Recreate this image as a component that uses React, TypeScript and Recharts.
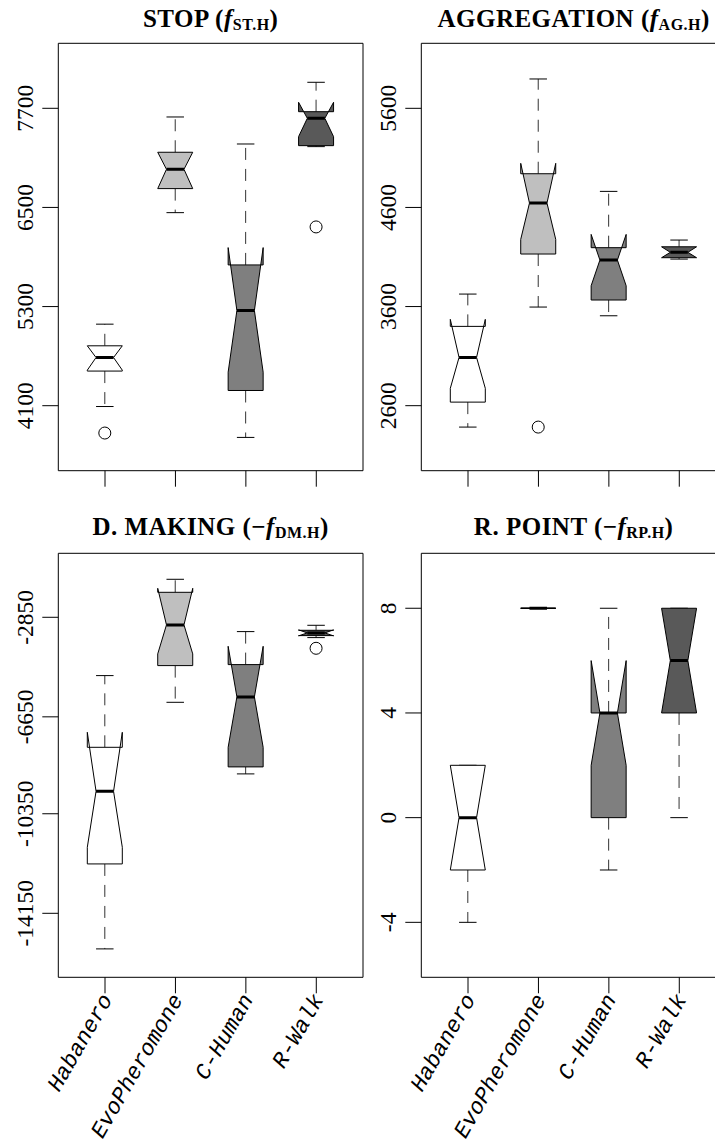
import React from "react";
import { ComposedChart, Bar, XAxis, YAxis, Customized } from "recharts";

// ---------- data ----------
const categories = ["Habanero", "EvoPheromone", "C-Human", "R-Walk"];
const boxFills = ["#ffffff", "#bfbfbf", "#7f7f7f", "#595959"];

// STOP (f_ST.H)
const stopBoxes = [
  { lo: 4090, q1: 4519, med: 4683, q3: 4825, hi: 5087, nLo: 4530, nHi: 4825 },
  { lo: 6437, q1: 6728, med: 6962, q3: 7168, hi: 7595, nLo: 6728, nHi: 7168 },
  { lo: 3716, q1: 4284, med: 5252, q3: 5804, hi: 7268, nLo: 4506, nHi: 6014 },
  { lo: 7236, q1: 7248, med: 7579, q3: 7659, hi: 8015, nLo: 7357, nHi: 7773 },
];
const stopOutliers = [[3769], [], [], [6264]];
const stopTicks = [4100, 5300, 6500, 7700];
const stopDomain = [3313, 8487];

// AGGREGATION (f_AG.H)
const aggBoxes = [
  { lo: 2384, q1: 2636, med: 3087, q3: 3400, hi: 3726, nLo: 2775, nHi: 3471 },
  { lo: 3595, q1: 4130, med: 4644, q3: 4940, hi: 5896, nLo: 4278, nHi: 5045 },
  { lo: 3507, q1: 3666, med: 4069, q3: 4194, hi: 4762, nLo: 3810, nHi: 4328 },
  { lo: 4079, q1: 4093, med: 4147, q3: 4203, hi: 4271, nLo: 4093, nHi: 4203 },
];
const aggOutliers = [[], [2384], [], []];
const aggTicks = [2600, 3600, 4600, 5600];
const aggDomain = [1944, 6256];

// D. MAKING (-f_DM.H)
const dmBoxes = [
  { lo: -15509, q1: -12265, med: -9492, q3: -7813, hi: -5076, nLo: -11630, nHi: -7240 },
  { lo: -6095, q1: -4694, med: -3140, q3: -1896, hi: -1399, nLo: -4247, nHi: -1743 },
  { lo: -8828, q1: -8561, med: -5889, q3: -4656, hi: -3396, nLo: -7813, nHi: -3957 },
  { lo: -3625, q1: -3549, med: -3446, q3: -3346, hi: -3155, nLo: -3560, nHi: -3330 },
];
const dmOutliers = [[], [], [], [-4033]];
const dmTicks = [-14150, -10350, -6650, -2850];
const dmDomain = [-16593, -407];

// R. POINT (-f_RP.H)
const rpBoxes = [
  { lo: -4, q1: -2, med: 0, q3: 2, hi: 2, nLo: -2, nHi: 2 },
  { lo: 8, q1: 8, med: 8, q3: 8, hi: 8, nLo: 8, nHi: 8 },
  { lo: -2, q1: 0, med: 4, q3: 4, hi: 8, nLo: 2, nHi: 6 },
  { lo: 0, q1: 4, med: 6, q3: 8, hi: 8, nLo: 4, nHi: 8 },
];
const rpOutliers = [[], [], [], []];
const rpTicks = [-4, 0, 4, 8];
const rpDomain = [-6.1, 10.1];

// ---------- helpers ----------
const SERIF = "'Liberation Serif', 'Times New Roman', serif";
const MONO = "'Liberation Mono', 'Courier New', monospace";

function buildRows(boxes: any[], outliers: number[][], domain: number[]) {
  return categories.map((name, i) => ({
    name,
    span: [domain[0], domain[1]],
    ...boxes[i],
    outliers: outliers[i],
  }));
}

function BoxShape(props: any) {
  const { x, y, width, height, payload, index } = props;
  const [d0, d1] = payload.span;
  const py = (v: number) => y + ((d1 - v) / (d1 - d0)) * height;
  const cx = x + width / 2;
  const w = width / 4;
  const n = w / 2;
  const L = cx - w;
  const R = cx + w;
  const pts = [
    [L, py(payload.q1)],
    [L, py(payload.nLo)],
    [cx - n, py(payload.med)],
    [L, py(payload.nHi)],
    [L, py(payload.q3)],
    [R, py(payload.q3)],
    [R, py(payload.nHi)],
    [cx + n, py(payload.med)],
    [R, py(payload.nLo)],
    [R, py(payload.q1)],
  ]
    .map((p) => `${p[0]},${p[1]}`)
    .join(" ");
  const dash = "12 9";
  return (
    <g>
      <line x1={cx} x2={cx} y1={py(payload.q3)} y2={py(payload.hi)} stroke="#333" strokeDasharray={dash} />
      <line x1={cx} x2={cx} y1={py(payload.q1)} y2={py(payload.lo)} stroke="#333" strokeDasharray={dash} />
      <line x1={cx - n} x2={cx + n} y1={py(payload.hi)} y2={py(payload.hi)} stroke="#000" />
      <line x1={cx - n} x2={cx + n} y1={py(payload.lo)} y2={py(payload.lo)} stroke="#000" />
      <polygon points={pts} fill={boxFills[index]} stroke="#000" strokeWidth={1} strokeLinejoin="miter" />
      <line x1={cx - n} x2={cx + n} y1={py(payload.med)} y2={py(payload.med)} stroke="#000" strokeWidth={3} />
      {payload.outliers.map((v: number, k: number) => (
        <circle key={k} cx={cx} cy={py(v)} r={6} fill="none" stroke="#000" strokeWidth={1} />
      ))}
    </g>
  );
}

function YLabel(props: any) {
  const { x, y, payload } = props;
  return (
    <text
      x={x}
      y={y}
      transform={`rotate(-90 ${x} ${y})`}
      textAnchor="middle"
      fontFamily={SERIF}
      fontSize={23.5}
      fill="#000"
    >
      {payload.value}
    </text>
  );
}

function XLabel(props: any) {
  const { x, y, payload } = props;
  const ax = x + 8;
  const ay = y + 6;
  return (
    <text
      x={ax}
      y={ay}
      transform={`rotate(-60 ${ax} ${ay})`}
      textAnchor="end"
      fontFamily={MONO}
      fontStyle="italic"
      fontSize={22.5}
      fill="#000"
    >
      {payload.value}
    </text>
  );
}

function BlankTick() {
  return <g />;
}

function Title(props: any) {
  const { tx, ty, pre, sub } = props;
  return (
    <text
      x={tx}
      y={ty}
      textAnchor="middle"
      fontFamily={SERIF}
      fontWeight="bold"
      fontSize={25}
      letterSpacing={0.5}
      fill="#000"
    >
      {pre}
      <tspan fontStyle="italic">f</tspan>
      <tspan fontSize={16} dy={3}>{sub}</tspan>
      <tspan dy={-3}>)</tspan>
    </text>
  );
}

const AXIS_W = 58.3;
const PLOT_W = 304.7;
const CHART_W = 380;

function Panel(props: any) {
  const { left, top, chartH, xAxisH, rows, domain, ticks, pre, sub, titleY, showLabels } = props;
  return (
    <div style={{ position: "absolute", left, top }}>
      <ComposedChart
        width={CHART_W}
        height={chartH}
        data={rows}
        margin={{ top: 42.3, right: 16, bottom: 0, left: 0 }}
        barCategoryGap={0}
        barGap={0}
      >
        <XAxis
          dataKey="name"
          type="category"
          interval={0}
          padding={{ left: 11.5, right: 11.5 }}
          height={xAxisH}
          tickSize={16}
          tickMargin={0}
          axisLine={{ stroke: "#000" }}
          tickLine={{ stroke: "#000" }}
          tick={showLabels ? <XLabel /> : <BlankTick />}
        />
        <XAxis
          xAxisId="top"
          dataKey="name"
          type="category"
          orientation="top"
          height={1}
          padding={{ left: 11.5, right: 11.5 }}
          tick={false}
          tickLine={false}
          axisLine={{ stroke: "#000" }}
        />
        <YAxis
          type="number"
          domain={domain}
          ticks={ticks}
          allowDataOverflow
          interval={0}
          width={AXIS_W}
          tickSize={16}
          tickMargin={9}
          axisLine={{ stroke: "#000" }}
          tickLine={{ stroke: "#000" }}
          tick={<YLabel />}
        />
        <YAxis
          yAxisId="r"
          type="number"
          orientation="right"
          domain={domain}
          allowDataOverflow
          width={1}
          tick={false}
          tickLine={false}
          axisLine={{ stroke: "#000" }}
        />
        <Bar dataKey="span" shape={(p: any) => <BoxShape {...p} />} isAnimationActive={false} />
        <Customized component={<Title tx={AXIS_W + PLOT_W / 2} ty={titleY} pre={pre} sub={sub} />} />
      </ComposedChart>
    </div>
  );
}

export default function App() {
  const topH = 500;
  const bottomTop = 510;
  const bottomH = 1146 - bottomTop;
  return (
    <div
      style={{
        position: "absolute",
        left: 0,
        top: 0,
        width: 715,
        height: 1146,
        overflow: "hidden",
        background: "#fff",
      }}
    >
      <Panel
        left={0}
        top={0}
        chartH={topH}
        xAxisH={topH - 470.7}
        rows={buildRows(stopBoxes, stopOutliers, stopDomain)}
        domain={stopDomain}
        ticks={stopTicks}
        pre="STOP ("
        sub="ST.H"
        titleY={27}
        showLabels={false}
      />
      <Panel
        left={421 - AXIS_W}
        top={0}
        chartH={topH}
        xAxisH={topH - 470.7}
        rows={buildRows(aggBoxes, aggOutliers, aggDomain)}
        domain={aggDomain}
        ticks={aggTicks}
        pre="AGGREGATION ("
        sub="AG.H"
        titleY={27}
        showLabels={false}
      />
      <Panel
        left={0}
        top={bottomTop}
        chartH={bottomH}
        xAxisH={1146 - 977.3}
        rows={buildRows(dmBoxes, dmOutliers, dmDomain)}
        domain={dmDomain}
        ticks={dmTicks}
        pre={"D. MAKING (\u2212"}
        sub="DM.H"
        titleY={25}
        showLabels={true}
      />
      <Panel
        left={421 - AXIS_W}
        top={bottomTop}
        chartH={bottomH}
        xAxisH={1146 - 977.3}
        rows={buildRows(rpBoxes, rpOutliers, rpDomain)}
        domain={rpDomain}
        ticks={rpTicks}
        pre={"R. POINT (\u2212"}
        sub="RP.H"
        titleY={25}
        showLabels={true}
      />
    </div>
  );
}
